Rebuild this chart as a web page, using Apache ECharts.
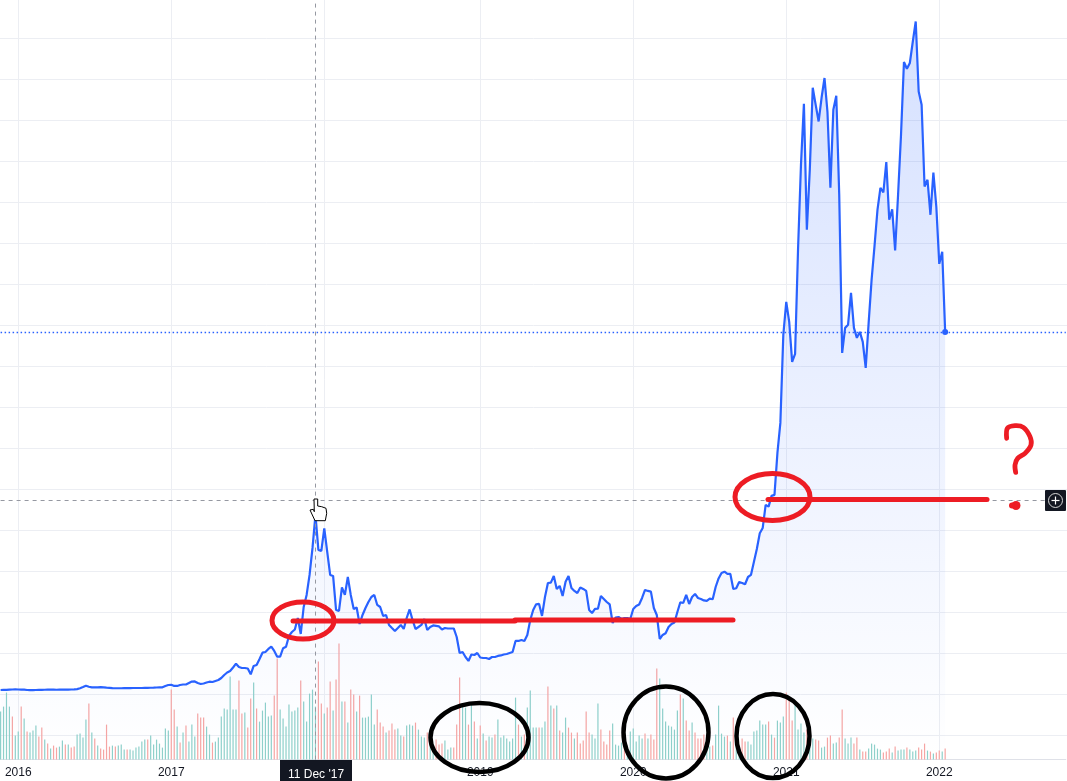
<!DOCTYPE html>
<html><head><meta charset="utf-8">
<style>html,body{margin:0;padding:0;background:#fff;overflow:hidden}#c{width:1067px;height:781px}</style>
<script src="https://cdn.jsdelivr.net/npm/echarts@6/dist/echarts.min.js"></script>
</head><body><div id="c"></div>
<script>
// Weekly closes (CAD). First bar is the week of firstWeek.
const firstWeek = '2015-11-23';
const emptyWeeksAfterLast = 41;
const prices = [
490,500,510,540,550,560,550,540,530,490,480,470,490,500,510,520,530,530,530,520,
530,540,540,540,550,560,600,700,850,1010,880,810,800,820,830,800,770,750,710,700,
700,700,710,720,720,730,730,730,730,740,750,760,770,790,810,820,980,1100,1130,980,
980,1100,1160,1160,1340,1520,1530,1340,1220,1280,1400,1500,1460,1590,1710,1950,2320,2620,2810,3230,
3700,3290,3170,3170,3110,2400,3420,3540,4270,5040,5120,5490,5770,5250,4550,4550,5580,5770,7080,7560,
7870,9270,7320,10610,12080,14520,17810,21840,17570,17450,20190,17320,14520,14400,10250,10130,12990,12080,14270,12080,
10370,10550,8540,9640,10490,11220,11830,12080,10860,10610,9520,9640,8420,8050,7690,8050,8420,7930,9270,10310,
9030,7930,8170,8420,9150,7810,8170,8360,8300,8240,7870,8050,7990,7990,7990,6950,5000,5120,4510,4030,
4820,4760,5000,4450,4390,4390,4270,4510,4510,4640,4700,4820,4880,5000,5120,6470,6470,6590,6470,7200,
9030,10250,10940,10980,9520,11830,13540,13580,14400,12810,13180,11960,13700,14400,12930,12570,12320,12990,12810,12570,
10250,9880,10370,10410,11960,11590,11220,10920,8660,9330,9390,9150,9270,9270,9150,10370,10740,10920,11710,12690,
12570,12480,10490,9640,6710,7200,7410,8170,8540,8720,10000,11190,11100,12080,10980,11830,12200,11710,11590,11410,
11350,11630,11550,13050,14090,14760,14920,14640,14640,12810,12900,13660,13540,13380,14270,14520,16100,17690,19610,20250,
23060,22850,24160,24280,29400,33060,43800,47820,45380,40500,41480,54170,64540,71980,56610,63930,73930,71850,69820,72710,
75120,71000,61730,71250,72960,60880,41600,44650,45020,48920,44650,43430,44160,42940,39770,45260,50510,54660,59050,61730,
61160,64870,57830,59110,54080,60880,68200,77070,76250,76950,79540,82020,73480,71860,61890,62710,58440,63600,59410,52460,
53920,44160];
const volumes = [
48,53,67,53,43,24,28,53,41,28,27,29,34,23,32,20,16,11,14,12,
13,19,15,15,12,13,25,26,22,40,56,27,21,14,11,10,35,13,14,13,
14,15,10,10,10,9,12,13,18,20,20,24,15,20,16,12,31,29,70,50,
33,17,27,34,18,35,23,46,42,42,33,25,17,18,22,43,51,50,83,50,
50,79,46,47,32,61,77,51,38,49,57,43,44,64,101,50,41,33,55,48,
49,52,79,58,38,66,70,53,98,56,46,52,78,49,80,116,58,58,37,70,
65,48,64,42,42,43,65,35,50,37,33,27,29,36,30,31,24,23,34,35,
34,37,30,23,22,27,23,15,20,15,16,19,10,12,12,35,82,53,52,35,
55,38,21,34,26,19,23,22,25,40,22,24,21,18,21,62,35,23,25,52,
69,32,32,32,32,38,73,54,51,54,29,27,42,32,27,21,27,16,19,48,
27,25,21,56,30,18,15,29,36,15,14,17,12,14,28,31,18,24,21,26,
21,25,20,91,81,51,38,34,33,30,49,65,61,39,29,37,27,21,21,25,
22,13,14,25,54,26,23,24,18,42,17,10,21,18,18,15,28,29,39,35,
35,38,25,22,39,37,43,67,60,39,55,30,36,27,30,15,21,20,19,12,
13,22,24,16,17,22,50,21,16,22,16,22,10,8,8,11,16,15,11,10,
7,8,11,7,13,9,10,10,12,10,8,9,12,10,16,9,8,6,7,9,
8,11];
// 1 = up week (green), 0 = down week (red)
const volumeUp = [
1,1,1,1,0,1,1,0,1,0,1,1,1,0,0,1,0,1,0,0,
1,1,0,1,0,0,1,1,1,1,0,1,0,1,0,0,0,0,1,0,
1,1,1,0,1,1,1,1,1,1,0,1,1,1,1,1,1,1,0,0,
1,0,1,0,1,1,1,0,0,0,1,1,0,1,1,1,1,1,1,1,
1,0,0,1,0,0,1,0,1,1,1,1,1,0,0,1,1,1,1,1,
1,1,0,1,1,1,1,1,0,0,1,0,0,1,0,0,1,0,1,0,
0,1,0,1,1,1,1,1,0,0,0,1,0,0,0,1,1,0,1,1,
1,0,1,1,1,0,1,1,0,0,0,1,1,1,0,0,0,1,1,0,
1,0,1,0,1,0,1,1,0,1,1,1,1,1,1,1,0,1,0,1,
1,1,1,0,1,1,0,1,0,1,0,1,1,0,0,1,0,0,0,0,
0,1,1,1,0,0,0,0,1,1,1,1,0,1,1,1,1,1,1,0,
1,0,0,0,1,1,1,1,1,1,1,0,1,0,0,1,0,0,0,0,
1,1,0,1,1,1,1,0,1,0,1,1,0,0,1,1,1,1,1,1,
1,0,1,0,1,1,1,0,0,0,1,1,1,1,0,1,1,0,0,1,
1,0,0,1,1,0,0,1,1,1,0,0,1,0,0,1,1,1,1,1,
0,0,0,1,0,1,1,1,0,1,1,1,0,0,0,1,0,1,0,0,
1,0];
const tickDates = ['2016-01-04','2017-01-02','2018-01-01','2019-01-07','2020-01-06','2021-01-04','2022-01-03'];
const crosshairDate = '2017-12-11';
const crosshairPrice = 23660;
const crosshairLabel = "11 Dec '17";

const weekMs = 7 * 864e5;
const t0 = Date.parse(firstWeek + 'T00:00:00Z');
const weeks = [];
for (let i = 0; i < prices.length + emptyWeeksAfterLast; i++) {
  weeks.push(new Date(t0 + i * weekMs).toISOString().slice(0, 10));
}
const lastIdx = prices.length - 1;
const isYearTick = (i, v) => tickDates.includes(v);
const RED = '#ed1c24', BLK = '#000', DARK = '#131722', GRID = '#eceef3', XH = '#9598a1';

const hand = [[64,19],[67.7,19],[67.7,26],[71.7,26.7],[76,28.3],[76.7,33.3],[75.3,40.7],[65,40.7],[60,30],[63.3,29.3],[64.3,31.7]]
  .map(p => [250 + p[0], 480 + p[1]]);
const qMark = [[860,325],[862,295],[885,287],[910,292],[930,320],[933,345],[915,370],[893,385],[885,405],[887,427]]
  .map(p => [720 + p[0] / 3, 330 + p[1] / 3]);

const ring = (cx, cy, rx, ry, color, w) => ({type:'ellipse', z:100, shape:{cx,cy,rx,ry}, style:{fill:'transparent', stroke:color, lineWidth:w}});
const stroke = (x1, y1, x2, y2, w) => ({type:'line', z:100, shape:{x1,y1,x2,y2}, style:{stroke:RED, lineWidth:w, lineCap:'round'}});
const hiddenAxis = {axisLine: {show: false}, axisTick: {show: false}, axisLabel: {show: false}, splitLine: {show: false}};

const chart = echarts.init(document.getElementById('c'), null, {renderer:'canvas'});
chart.setOption({
  animation: false,
  backgroundColor: '#ffffff',
  grid: [
    {left: 0.6, top: 0, width: 1065.2, height: 759.6, containLabel: false},
    {left: 0, top: 0, width: 1067, height: 735}
  ],
  xAxis: [
    {
      type: 'category', data: weeks, boundaryGap: false, gridIndex: 0,
      axisLine: {show: true, onZero: false, lineStyle: {color: '#dfe1e8', width: 1}},
      axisTick: {show: false},
      axisLabel: {interval: isYearTick, formatter: v => v.slice(0, 4), color: DARK, fontSize: 12, fontFamily: 'Liberation Sans', margin: 7, hideOverlap: false},
      splitLine: {show: true, interval: isYearTick, lineStyle: {color: GRID, width: 1}}
    },
    Object.assign({type: 'value', gridIndex: 1, min: 0, max: 1, show: false}, hiddenAxis)
  ],
  yAxis: [
    Object.assign({type: 'value', gridIndex: 0, min: -8000, max: 84634}, hiddenAxis),
    Object.assign({type: 'value', gridIndex: 0, min: 0, max: 759.6}, hiddenAxis),
    {type: 'value', gridIndex: 1, min: -5000, max: 84634, interval: 5000, axisLine: {show: false}, axisTick: {show: false}, axisLabel: {show: false}, splitLine: {show: true, showMaxLine: false, lineStyle: {color: GRID, width: 1}}}
  ],
  series: [
    {
      type: 'bar', xAxisIndex: 0, yAxisIndex: 1, barWidth: 1.2, silent: true, z: 2,
      data: volumes.map((v, i) => ({value: v, itemStyle: {color: volumeUp[i] ? '#8ed0ca' : '#f6a5a3'}}))
    },
    {
      type: 'line', xAxisIndex: 0, yAxisIndex: 0, data: prices, showSymbol: false, symbol: 'none', smooth: false, z: 3, silent: true,
      lineStyle: {color: '#2962ff', width: 2.2},
      areaStyle: {origin: 'start', color: new echarts.graphic.LinearGradient(0, 0, 0, 1, [
        {offset: 0, color: 'rgba(41,98,255,0.28)'},
        {offset: 1, color: 'rgba(41,98,255,0.0)'}
      ])},
      markLine: {
        silent: true, symbol: 'none', animation: false, label: {show: false},
        data: [
          {xAxis: crosshairDate, lineStyle: {color: XH, type: [4, 4], width: 1}},
          {yAxis: crosshairPrice, lineStyle: {color: XH, type: [4, 4], width: 1}},
          {yAxis: prices[lastIdx], lineStyle: {color: '#2962ff', type: [1.5, 2.5], width: 1.4}}
        ]
      },
      markPoint: {
        silent: true, symbol: 'circle', symbolSize: 6, label: {show: false},
        itemStyle: {color: '#2962ff'},
        data: [{coord: [weeks[lastIdx], prices[lastIdx]]}]
      }
    }
  ],
  graphic: [
    {type:'rect', z:90, shape:{x:280,y:760,width:72,height:21}, style:{fill:DARK}},
    {type:'text', z:91, style:{x:316,y:774.5,text:crosshairLabel,fill:'#fff',font:'12px "Liberation Sans"',textAlign:'center',textVerticalAlign:'middle'}},
    {type:'rect', z:90, shape:{x:1045,y:490,width:21,height:21,r:1}, style:{fill:DARK}},
    {type:'circle', z:91, shape:{cx:1055.5,cy:500.5,r:7}, style:{fill:'transparent',stroke:'#d8d8d8',lineWidth:1}},
    {type:'line', z:91, shape:{x1:1051.5,y1:500.5,x2:1059.5,y2:500.5}, style:{stroke:'#fff',lineWidth:1.2}},
    {type:'line', z:91, shape:{x1:1055.5,y1:496.5,x2:1055.5,y2:504.5}, style:{stroke:'#fff',lineWidth:1.2}},
    {type:'polygon', z:95, shape:{points:hand}, style:{fill:'#fff',stroke:'#000',lineWidth:1}},
    ring(303, 620.5, 31, 18.5, RED, 5),
    ring(772.5, 497, 37.5, 23.5, RED, 5),
    stroke(293, 621, 515, 621, 5),
    stroke(515, 620, 733, 620, 5),
    stroke(768, 499.5, 987, 499.5, 5),
    {type:'polyline', z:100, shape:{points:qMark, smooth:0.3}, style:{fill:'none',stroke:RED,lineWidth:4.8,lineCap:'round',lineJoin:'round'}},
    {type:'circle', z:100, shape:{cx:1016,cy:505.5,r:4.5}, style:{fill:RED}},
    {type:'circle', z:100, shape:{cx:1012,cy:505.5,r:3}, style:{fill:RED}},
    ring(479.5, 737.5, 49, 34.5, BLK, 4.5),
    ring(666, 732.5, 42.5, 46, BLK, 4.5),
    ring(773, 736, 36.5, 42, BLK, 4.5)
  ]
});
</script></body></html>
